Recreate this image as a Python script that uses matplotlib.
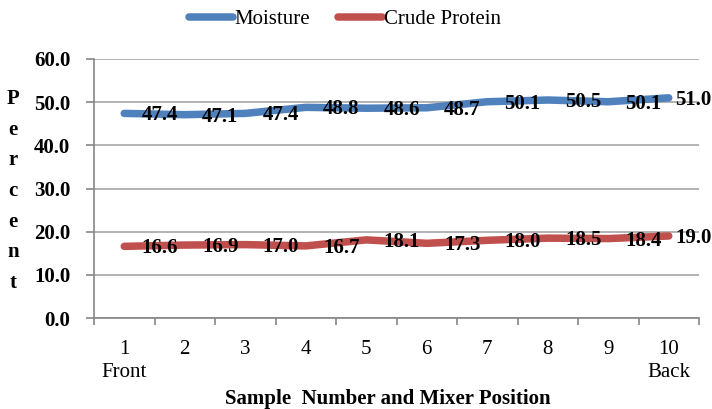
import matplotlib
matplotlib.use("Agg")
import matplotlib.pyplot as plt
from matplotlib.lines import Line2D

samples = [1, 2, 3, 4, 5, 6, 7, 8, 9, 10]
tick_labels = ["1\nFront", "2", "3", "4", "5", "6", "7", "8", "9", "10\nBack"]
moisture = [47.4, 47.1, 47.4, 48.8, 48.6, 48.7, 50.1, 50.5, 50.1, 51.0]
protein = [16.6, 16.9, 17.0, 16.7, 18.1, 17.3, 18.0, 18.5, 18.4, 19.0]
y_ticks = [0, 10, 20, 30, 40, 50, 60]

plt.rcParams['font.family'] = ['Liberation Serif', 'DejaVu Serif']

BLUE = "#4F81BD"
RED = "#C0504D"
GRID = "#A6A6A6"
AXC = "#868686"
FS = 15

fig = plt.figure(figsize=(7.12, 4.09), dpi=100)
ax = fig.add_axes([94/712, 1 - 318/409, 605/712, 259/409])

ax.set_xlim(0.5, 10.5)
ax.set_ylim(0, 60)

for vals, col in [(moisture, BLUE), (protein, RED)]:
    ax.plot(samples, vals, color=col, lw=5.4, solid_capstyle='round',
            solid_joinstyle='round', zorder=3)
    for i, (x, v) in enumerate(zip(samples, vals)):
        off = 12.5 if i < len(samples) - 1 else 4.5
        ax.annotate(f"{v:.1f}", xy=(x, v), xytext=(off, -1.5), textcoords='offset points',
                    ha='left', va='center', fontsize=FS, fontweight='bold',
                    color='black', zorder=4)

ax.set_yticks(y_ticks)
ax.set_yticklabels([f"{t:.1f}" for t in y_ticks], fontsize=FS, fontweight='bold')
ax.yaxis.grid(True, color=GRID, lw=1.2)
ax.set_axisbelow(True)

ax.set_xticks(samples)
ax.set_xticklabels(tick_labels, fontsize=FS, linespacing=1.25)
ax.set_xticks([i + 0.5 for i in range(0, 11)], minor=True)
ax.tick_params(axis='x', which='major', length=0, pad=16)
ax.tick_params(axis='x', which='minor', length=5, color=AXC, width=1.2)
ax.tick_params(axis='y', length=6, color=AXC, width=1.2, pad=11)

for s in ['top', 'right']:
    ax.spines[s].set_visible(False)
for s in ['left', 'bottom']:
    ax.spines[s].set_color(AXC)
    ax.spines[s].set_linewidth(1.2)

fig.text(388/712, 1 - 399/409, "Sample  Number and Mixer Position", fontsize=FS,
         fontweight='bold', ha='center', va='center')
fig.text(13/712, 1 - 191/409, "\n".join("Percent"), fontsize=FS, fontweight='bold',
         ha='center', va='center', linespacing=1.71)

handles = [Line2D([0], [0], color=BLUE, lw=5.4, solid_capstyle='round'),
           Line2D([0], [0], color=RED, lw=5.4, solid_capstyle='round')]
fig.legend(handles, ["Moisture", "Crude Protein"], loc='center',
           bbox_to_anchor=(345/712, 1 - 19/409), ncol=2, frameon=False,
           fontsize=FS, handlelength=2.1, handletextpad=0.1, columnspacing=1.35)

fig.savefig("out.png", dpi=100)
